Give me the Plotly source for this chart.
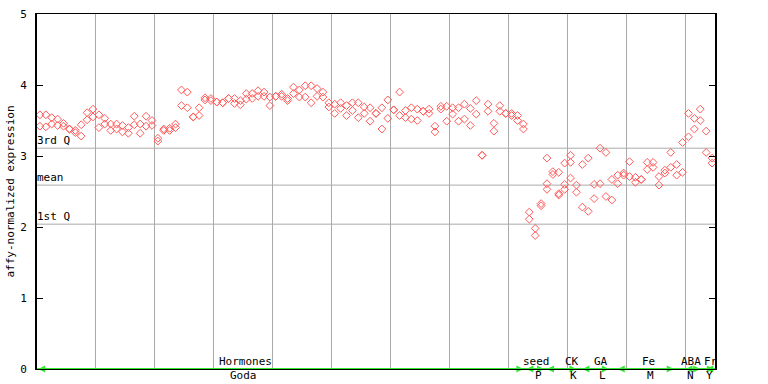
import plotly.graph_objects as go

# ---- data ----
rep1 = [3.58, 3.58, 3.54, 3.52, 3.46, 3.38, 3.36, 3.44, 3.61, 3.66,
        3.58, 3.53, 3.45, 3.45, 3.43, 3.40, 3.56, 3.45, 3.56, 3.50,
        3.25, 3.38, 3.39, 3.45, 3.93, 3.90, 3.55, 3.68, 3.82, 3.81,
        3.76, 3.75, 3.81, 3.81, 3.78, 3.88, 3.88, 3.92, 3.90, 3.83,
        3.84, 3.87, 3.81, 3.97, 3.93, 3.99, 3.99, 3.95, 3.90, 3.75,
        3.73, 3.75, 3.71, 3.75, 3.75, 3.69, 3.68, 3.60, 3.68, 3.79,
        3.65, 3.90, 3.64, 3.68, 3.66, 3.63, 3.66, 3.42, 3.70, 3.70,
        3.68, 3.68, 3.73, 3.67, 3.78, 3.01, 3.73, 3.46, 3.71, 3.60,
        3.60, 3.57, 3.45, 2.21, 1.98, 2.33, 2.97, 2.78, 2.77, 2.90,
        3.01, 2.59, 2.88, 2.97, 2.60, 3.11, 3.05, 2.67, 2.73, 2.76,
        2.92, 2.70, 2.67, 2.91, 2.91, 2.71, 2.80, 3.05, 2.88, 3.19,
        3.60, 3.53, 3.66, 3.35, 2.97]
rep2 = [3.42, 3.41, 3.45, 3.43, 3.42, 3.38, 3.33, 3.28, 3.51, 3.55,
        3.40, 3.45, 3.36, 3.38, 3.34, 3.32, 3.44, 3.32, 3.42, 3.43,
        3.21, 3.36, 3.36, 3.40, 3.71, 3.68, 3.55, 3.57, 3.79, 3.78,
        3.76, 3.75, 3.81, 3.74, 3.72, 3.80, 3.81, 3.84, 3.84, 3.71,
        3.84, 3.84, 3.78, 3.88, 3.83, 3.83, 3.75, 3.84, 3.83, 3.69,
        3.60, 3.67, 3.57, 3.64, 3.54, 3.60, 3.49, 3.60, 3.38, 3.53,
        3.65, 3.57, 3.54, 3.52, 3.50, 3.63, 3.60, 3.34, 3.66, 3.49,
        3.59, 3.49, 3.52, 3.43, 3.59, 3.01, 3.63, 3.35, 3.63, 3.60,
        3.57, 3.50, 3.38, 2.11, 1.88, 2.30, 2.61, 2.74, 2.47, 2.60,
        2.91, 2.49, 2.28, 2.22, 2.40, 2.61, 2.43, 2.38, 2.61, 2.73,
        2.71, 2.63, 2.67, 2.81, 2.84, 2.59, 2.76, 2.84, 2.73, 2.77,
        3.27, 3.38, 3.50, 3.05, 2.90]
extra_idx = [86, 88, 89, 90]
extra_val = [2.53, 2.45, 2.53, 2.69]

quartile_names = ["3rd Q", "mean", "1st Q"]
quartile_vals = [3.11, 2.59, 2.04]

group_top = ["Hormones", "seed", "CK", "GA", "Fe", "ABA", "Fr"]
group_bottom = ["Goda", "P", "K", "L", "M", "N", "Y"]
group_start = [0.2, 83.0, 86.5, 92.5, 98.5, 110.0, 113.5]
group_end = [82.5, 86.0, 91.5, 97.0, 108.0, 112.5, 114.8]
group_top_x = [35.3, 84.8, 90.8, 95.7, 103.7, 111.0, 114.3]
group_bottom_x = [35.0, 85.0, 91.0, 96.0, 104.0, 110.9, 114.0]

n = len(rep1)
xs = [i + 0.5 for i in range(n)]
FONT = "DejaVu Sans Mono"
RED = "#ff5a5a"
GREEN = "#33e833"

fig = go.Figure()

# quartile lines
for v in quartile_vals:
    fig.add_shape(type="line", xref="paper", yref="y", x0=0, x1=1, y0=v, y1=v,
                  line=dict(color="#aaaaaa", width=1), layer="below")

marker = dict(symbol="diamond-open", size=6, color=RED,
              line=dict(color=RED, width=1))
fig.add_trace(go.Scatter(x=xs, y=rep1, mode="markers", marker=marker, showlegend=False))
fig.add_trace(go.Scatter(x=xs, y=rep2, mode="markers", marker=marker, showlegend=False))
fig.add_trace(go.Scatter(x=[i + 0.5 for i in extra_idx], y=extra_val, mode="markers",
                         marker=marker, showlegend=False))

# green baseline with arrows
fig.add_trace(go.Scatter(x=[0, 115], y=[0, 0], mode="lines",
                         line=dict(color=GREEN, width=2), showlegend=False,
                         cliponaxis=False))
fig.add_trace(go.Scatter(x=group_start, y=[0] * len(group_start), mode="markers",
                         marker=dict(symbol="arrow-left", size=7, color=GREEN),
                         showlegend=False, cliponaxis=False))
fig.add_trace(go.Scatter(x=group_end, y=[0] * len(group_end), mode="markers",
                         marker=dict(symbol="arrow-right", size=7, color=GREEN),
                         showlegend=False, cliponaxis=False))

for name, v in zip(quartile_names, quartile_vals):
    fig.add_annotation(x=0, y=v, xref="x", yref="y", text=name, showarrow=False,
                       xanchor="left", yanchor="bottom", yshift=-1, xshift=-2,
                       font=dict(family=FONT, size=11, color="black"))

for t, x in zip(group_top, group_top_x):
    fig.add_annotation(x=x, y=0, xref="x", yref="y", text=t, showarrow=False,
                       xanchor="center", yanchor="bottom", yshift=-1,
                       font=dict(family=FONT, size=11, color="black"))
for t, x in zip(group_bottom, group_bottom_x):
    fig.add_annotation(x=x, y=0, xref="x", yref="y", text=t, showarrow=False,
                       xanchor="center", yanchor="top", yshift=2,
                       font=dict(family=FONT, size=11, color="black"))

fig.update_layout(
    width=768, height=384,
    margin=dict(l=37, r=53, t=14, b=15, autoexpand=False),
    paper_bgcolor="white", plot_bgcolor="white",
    font=dict(family=FONT, size=11, color="black"),
    xaxis=dict(range=[0, 115], showticklabels=False, ticks="",
               showgrid=True, gridcolor="#aaaaaa", gridwidth=1,
               tick0=0, dtick=10, zeroline=False, automargin=False,
               showline=True, linecolor="black", linewidth=1, mirror=True),
    yaxis=dict(range=[0, 5], tickvals=[0, 1, 2, 3, 4, 5], ticks="inside",
               ticklen=6, tickcolor="black", showgrid=False, zeroline=False,
               automargin=False, ticklabelstandoff=6,
               showline=True, linecolor="black", linewidth=2, mirror="ticks",
               title=dict(text="affy-normalized expression", standoff=3,
                          font=dict(family=FONT, size=11)),
               tickfont=dict(family=FONT, size=11)),
)

fig.write_html("out.html", config={"displayModeBar": False},
               post_script="document.body.style.margin='0px';document.body.style.padding='0px';")
